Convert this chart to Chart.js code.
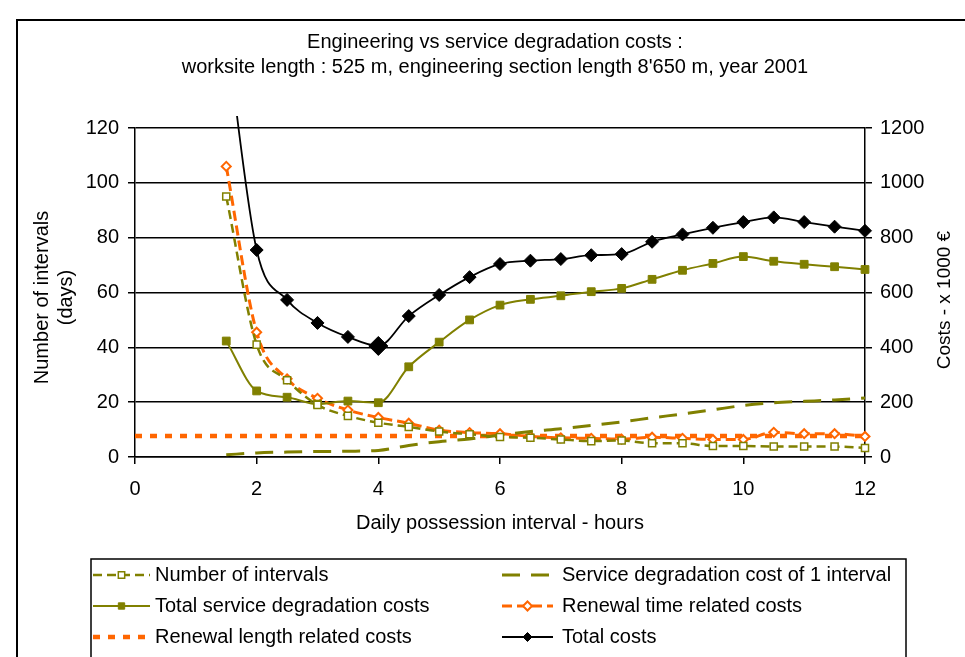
<!DOCTYPE html>
<html>
<head>
<meta charset="utf-8">
<script src="https://cdn.jsdelivr.net/npm/chart.js@4/dist/chart.umd.min.js"></script>
<style>
  html, body { margin: 0; padding: 0; background: #fff; overflow: hidden; }
  #wrap { position: relative; width: 965px; height: 657px; }
  #frame { position: absolute; left: 16px; top: 19px; width: 1000px; height: 700px; border-left: 2px solid #000; border-top: 2px solid #000; }
  canvas { position: absolute; left: 0; top: 0; }
</style>
</head>
<body>
<div id="wrap">
  <div id="frame"></div>
  <canvas id="costChart" width="965" height="657"></canvas>
</div>
<script>
// daily possession interval (hours)
const hours = [1.5, 2, 2.5, 3, 3.5, 4, 4.5, 5, 5.5, 6, 6.5, 7, 7.5, 8, 8.5, 9, 9.5, 10, 10.5, 11, 11.5, 12];
// left axis (days)
const numIntervals = [95, 41, 28, 19, 15, 12.5, 11, 9.3, 8.3, 7.3, 7, 6.4, 5.8, 6, 5, 5, 4, 4, 3.8, 3.8, 3.8, 3.3];
// right axis (x 1000 €)
const serviceOneInterval = [8, 15, 18, 20, 21, 24, 42, 56, 66, 80, 93, 103, 115, 128, 143, 157, 172, 188, 198, 203, 208, 215];
const totalService = [423, 241, 218, 193, 204, 198, 329, 419, 500, 554, 575, 588, 603, 615, 648, 681, 706, 731, 714, 703, 694, 684];
const renewalTime = [1060, 455, 285, 214, 171, 144, 123, 98, 89, 85, 75, 70, 68, 65, 72, 68, 64, 64, 90, 85, 85, 75];
const renewalLengthX = [0, 12];
const renewalLength = [77, 77];
const totalCosts = [1550, 755, 573, 489, 438, 405, 514, 591, 656, 704, 716, 722, 736, 740, 785, 812, 836, 857, 874, 857, 840, 825];

const titleLines = ['Engineering vs service degradation costs :', "worksite length : 525 m, engineering section length 8'650 m, year 2001"];
const xTitle = 'Daily possession interval - hours';
const yTitle = ['Number of intervals', '(days)'];
const y2Title = 'Costs - x 1000 €';

const FONT = '"Liberation Sans", Arial, sans-serif';
const OLIVE = '#808000';
const ORANGE = '#FF6600';

function pts(xs, ys) { return xs.map((x, i) => ({ x: x, y: ys[i] })); }

function drawMarker(ctx, style, x, y, r, fill, stroke, bw) {
    ctx.save();
    ctx.setLineDash([]);
    ctx.beginPath();
    if (style === 'rect') {
        const s = r * Math.SQRT1_2;
        ctx.rect(x - s, y - s, 2 * s, 2 * s);
    } else {
        ctx.moveTo(x, y - r); ctx.lineTo(x + r, y); ctx.lineTo(x, y + r); ctx.lineTo(x - r, y); ctx.closePath();
    }
    ctx.fillStyle = fill; ctx.fill();
    ctx.lineWidth = bw; ctx.strokeStyle = stroke; ctx.stroke();
    ctx.restore();
}

// titles, axis titles and the boxed 2-column legend
const decor = {
    id: 'decor',
    afterDraw(chart) {
        const ctx = chart.ctx;
        const a = chart.chartArea;
        ctx.save();
        ctx.fillStyle = '#000';
        ctx.textAlign = 'center';
        ctx.textBaseline = 'middle';
        ctx.font = '20px ' + FONT;
        ctx.fillText(titleLines[0], 495, 42);
        ctx.fillText(titleLines[1], 495, 67);
        ctx.fillText(xTitle, (a.left + a.right) / 2, 523);
        const midY = (a.top + a.bottom) / 2;
        ctx.save(); ctx.translate(42, midY + 5); ctx.rotate(-Math.PI / 2);
        ctx.fillText(yTitle[0], 0, 0); ctx.restore();
        ctx.save(); ctx.translate(66, midY + 5); ctx.rotate(-Math.PI / 2);
        ctx.fillText(yTitle[1], 0, 0); ctx.restore();
        ctx.font = '19px ' + FONT;
        ctx.save(); ctx.translate(945, 300); ctx.rotate(-Math.PI / 2);
        ctx.fillText(y2Title, 0, 0); ctx.restore();

        // legend
        ctx.font = '20px ' + FONT;
        ctx.lineWidth = 1.5; ctx.strokeStyle = '#000';
        ctx.strokeRect(91, 559, 815, 140);
        ctx.textAlign = 'left';
        chart.data.datasets.forEach((ds, i) => {
            const col = i % 2, row = Math.floor(i / 2);
            const y = 575 + row * 31;
            const x0 = col ? 502 : 93, x1 = col ? 553 : 150;
            ctx.save();
            ctx.beginPath();
            ctx.setLineDash(ds.borderDash || []);
            ctx.lineWidth = ds.borderWidth; ctx.strokeStyle = ds.borderColor;
            ctx.moveTo(x0, y); ctx.lineTo(x1, y); ctx.stroke();
            ctx.restore();
            if (ds.pointStyle) {
                drawMarker(ctx, ds.pointStyle, (x0 + x1) / 2, y, 4.5,
                    ds.pointBackgroundColor, ds.pointBorderColor, ds.pointBorderWidth);
            }
            ctx.fillStyle = '#000';
            ctx.fillText(ds.label, col ? 562 : 155, y);
        });
        ctx.restore();
    }
};

const smooth = { cubicInterpolationMode: 'monotone' };
const tickFont = { size: 20, family: FONT };

new Chart(document.getElementById('costChart'), {
    type: 'line',
    data: {
        datasets: [
            { label: 'Number of intervals', data: pts(hours, numIntervals), yAxisID: 'y',
              borderColor: OLIVE, borderWidth: 2.5, borderDash: [9, 5], pointStyle: 'rect', pointRadius: 5,
              pointBackgroundColor: '#fff', pointBorderColor: OLIVE, pointBorderWidth: 1.5, clip: false, ...smooth },
            { label: 'Service degradation cost of 1 interval', data: pts(hours, serviceOneInterval), yAxisID: 'y2',
              borderColor: OLIVE, borderWidth: 3, borderDash: [18, 11], pointRadius: 0, clip: false, ...smooth },
            { label: 'Total service degradation costs', data: pts(hours, totalService), yAxisID: 'y2',
              borderColor: OLIVE, borderWidth: 2, pointStyle: 'rect', pointRadius: 5.5,
              pointBackgroundColor: OLIVE, pointBorderColor: OLIVE, pointBorderWidth: 1, clip: false, ...smooth },
            { label: 'Renewal time related costs', data: pts(hours, renewalTime), yAxisID: 'y2',
              borderColor: ORANGE, borderWidth: 3, borderDash: [10, 5], pointStyle: 'rectRot', pointRadius: 4.5,
              pointBackgroundColor: '#fff', pointBorderColor: ORANGE, pointBorderWidth: 2, clip: false, ...smooth },
            { label: 'Renewal length related costs', data: pts(renewalLengthX, renewalLength), yAxisID: 'y2',
              borderColor: ORANGE, borderWidth: 4.5, borderDash: [7, 8], pointRadius: 0, clip: false },
            { label: 'Total costs', data: pts(hours, totalCosts), yAxisID: 'y2',
              borderColor: '#000', borderWidth: 1.8, pointStyle: 'rectRot',
              pointRadius: hours.map(h => h === 4 ? 9.5 : 6.5),
              pointBackgroundColor: '#000', pointBorderColor: '#000', pointBorderWidth: 1,
              clip: { left: 10, top: 12, right: 10, bottom: 10 }, ...smooth }
        ]
    },
    options: {
        responsive: false,
        animation: false,
        layout: { padding: { top: 128, left: 0, right: 0, bottom: 160 } },
        plugins: { legend: { display: false }, tooltip: { enabled: false } },
        scales: {
            x: { type: 'linear', min: 0, max: 12,
                 ticks: { stepSize: 2, color: '#000', font: tickFont, padding: 13 },
                 grid: { drawOnChartArea: false, color: '#000', lineWidth: 1.5, tickLength: 7 },
                 border: { color: '#000', width: 1.5 },
                 afterFit(s) { s.height = 40; } },
            y: { position: 'left', min: 0, max: 120,
                 ticks: { stepSize: 20, color: '#000', font: tickFont, padding: 9 },
                 grid: { color: '#000', lineWidth: 1.5, tickLength: 7 },
                 border: { color: '#000', width: 1.5 },
                 afterFit(s) { s.width = 135; } },
            y2: { position: 'right', min: 0, max: 1200,
                  ticks: { stepSize: 200, color: '#000', font: tickFont, padding: 8, callback: v => String(v) },
                  grid: { drawOnChartArea: false, color: '#000', lineWidth: 1.5, tickLength: 7 },
                  border: { color: '#000', width: 1.5 },
                  afterFit(s) { s.width = 100; } }
        }
    },
    plugins: [decor]
});
</script>
</body>
</html>
